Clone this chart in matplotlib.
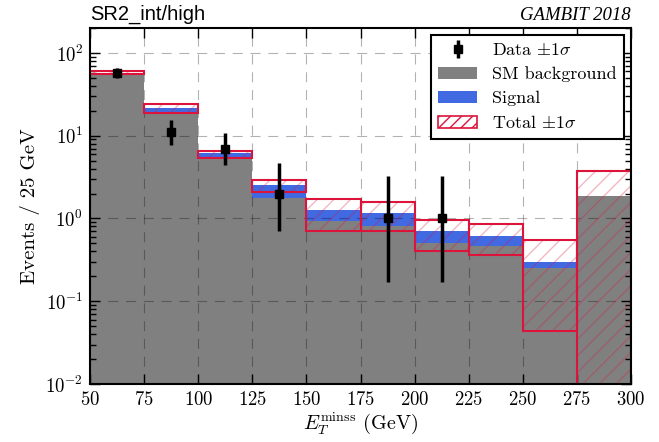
"""
SR2_int/high signal region: SM background, signal and data per MET bin.
"""

import numpy as np
import matplotlib
matplotlib.use('Agg')
import matplotlib.pyplot as plt
import matplotlib.patches as mpatches

plt.rcParams['font.family'] = 'cmr10'
plt.rcParams['mathtext.fontset'] = 'cm'
plt.rcParams['axes.formatter.use_mathtext'] = True
plt.rcParams['hatch.linewidth'] = 1.0

BG_COLOR = '#808080'
SIG_COLOR = 'royalblue'
BAND_COLOR = 'crimson'

# Bin edges (GeV)
bin_lo = [50, 75, 100, 125, 150, 175, 200, 225, 250, 275]
bin_width = 25

# Expected yields per bin
sm_bkg = [56.0, 19.2, 5.6, 1.75, 0.92, 0.81, 0.50, 0.46, 0.25, 1.86]
signal = [0.6, 2.4, 0.55, 0.76, 0.33, 0.36, 0.20, 0.16, 0.05, 0.03]
total_lo = [55.5, 18.7, 5.4, 2.07, 0.715, 0.70, 0.41, 0.363, 0.0437, 0.0]
total_hi = [60.4, 24.0, 6.55, 2.89, 1.70, 1.58, 0.955, 0.85, 0.552, 3.71]

# Observed data (only non-empty bins), with 1 sigma intervals
data_x = [62.5, 87.5, 112.5, 137.5, 187.5, 212.5]
data_n = [57, 11, 7, 2, 1, 1]
data_lo = [49.6, 7.7, 4.4, 0.71, 0.17, 0.17]
data_hi = [65.8, 15.4, 10.7, 4.64, 3.3, 3.3]


def plot_sr():
    fig = plt.figure(figsize=(6.59, 4.42), dpi=100)
    ax = fig.add_axes([0.1366, 0.1312, 0.8209, 0.8054])

    # Stacked expectation
    ax.bar(bin_lo, sm_bkg, width=bin_width, align='edge', color=BG_COLOR,
           linewidth=0, zorder=1)
    ax.bar(bin_lo, signal, width=bin_width, bottom=sm_bkg, align='edge',
           color=SIG_COLOR, linewidth=0, zorder=2)

    # Total +- 1 sigma band: hatch + outline
    band_h = np.array(total_hi) - np.array(total_lo)
    ax.bar(bin_lo, band_h, width=bin_width, bottom=total_lo, align='edge',
           facecolor='none', edgecolor=BAND_COLOR, hatch='//', linewidth=0,
           alpha=0.3, zorder=3)
    ax.bar(bin_lo, band_h, width=bin_width, bottom=total_lo, align='edge',
           fill=False, edgecolor=BAND_COLOR, linewidth=1.5, zorder=4)

    # Data
    yerr = [np.array(data_n) - np.array(data_lo), np.array(data_hi) - np.array(data_n)]
    ax.errorbar(data_x, data_n, yerr=yerr, fmt='s', color='k', ms=6,
                elinewidth=2.5, capsize=0, zorder=6)

    ax.set_yscale('log')
    ax.set_xlim(50, 300)
    ax.set_ylim(1e-2, 200)
    ax.set_xticks(np.arange(50, 301, 25))

    ax.grid(True, which='major', color='k', alpha=0.3, linestyle=(0, (9, 7)),
            linewidth=0.8, zorder=5)
    ax.set_axisbelow(False)

    ax.tick_params(which='both', direction='in', top=True, right=True,
                   labelsize=13.5)
    ax.tick_params(which='major', length=7, width=1, pad=5)
    ax.tick_params(which='minor', length=4, width=1)
    for s in ax.spines.values():
        s.set_linewidth(1.5)
        s.set_zorder(7)

    ax.set_xlabel(r'$E_T^{\rm minss}$ (GeV)', fontsize=14.5, labelpad=1)
    ax.set_ylabel('Events / 25 GeV', fontsize=15, labelpad=4)

    ax.text(0.0, 1.012, 'SR2_int/high', transform=ax.transAxes, ha='left',
            va='bottom', fontsize=14.5, family='Liberation Sans')
    ax.text(1.0, 1.012, 'GAMBIT 2018', transform=ax.transAxes, ha='right',
            va='bottom', fontsize=13.5, family='Liberation Serif',
            style='italic')

    # Legend
    data_h = ax.errorbar([], [], yerr=[], fmt='s', color='k', ms=6,
                         elinewidth=2.5, capsize=0)
    hs = [data_h,
          mpatches.Patch(facecolor=BG_COLOR, edgecolor='none'),
          mpatches.Patch(facecolor=SIG_COLOR, edgecolor='none'),
          mpatches.Patch(facecolor='white', edgecolor=BAND_COLOR, hatch='///',
                         linewidth=1.2)]
    ls = [r'Data $\pm1\sigma$', 'SM background', 'Signal', r'Total $\pm1\sigma$']
    leg = ax.legend(hs, ls, loc='upper right', fontsize=13, fancybox=False,
                    framealpha=1, edgecolor='k', handlelength=2.2,
                    borderaxespad=0.4, labelspacing=0.45)
    leg.get_frame().set_linewidth(1.5)
    leg.set_zorder(8)

    fig.savefig('out.png', dpi=100)


if __name__ == '__main__':
    plot_sr()
